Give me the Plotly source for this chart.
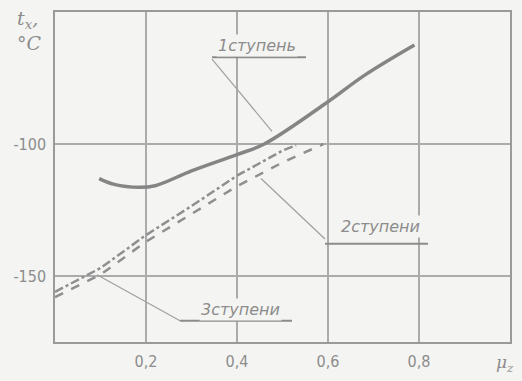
import plotly.graph_objects as go

# Data
x_st1 = [0.097, 0.13, 0.185, 0.22, 0.30, 0.40, 0.46, 0.60, 0.68, 0.79]
y_st1 = [-113.1, -115.3, -116.4, -115.8, -110.2, -104.0, -100.0, -84.0, -74.0, -62.5]

x_st3 = [0.0, 0.1, 0.2, 0.3, 0.4, 0.5, 0.53]
y_st3 = [-156.0, -147.0, -134.5, -123.5, -112.0, -102.5, -100.5]

x_st2 = [0.0, 0.1, 0.2, 0.3, 0.4, 0.5, 0.59]
y_st2 = [-158.0, -149.5, -137.0, -126.5, -116.0, -107.0, -100.0]

x_ticks = [0.2, 0.4, 0.6, 0.8]
x_ticktext = ["0,2", "0,4", "0,6", "0,8"]
y_ticks = [-100, -150]
y_ticktext = ["-100", "-150"]

BG = "#f4f4f2"
INK = "#8c8c8c"
GRID = "#ababab"

# pixel -> data helpers for annotation geometry (plot area 55..510 x, 10..353 y)
def px(p):
    return (p - 55) / 455.0

def py(p):
    return -50 - (p - 10) * 125.0 / 343.0

fig = go.Figure()
fig.add_trace(go.Scatter(x=x_st1, y=y_st1, mode="lines", line=dict(color="#858585", width=3.5, shape="spline"),
                         showlegend=False, hoverinfo="skip"))
fig.add_trace(go.Scatter(x=x_st3, y=y_st3, mode="lines", line=dict(color="#8f8f8f", width=2.5, dash="dashdot"),
                         showlegend=False, hoverinfo="skip"))
fig.add_trace(go.Scatter(x=x_st2, y=y_st2, mode="lines", line=dict(color="#8f8f8f", width=2.5, dash="dash"),
                         showlegend=False, hoverinfo="skip"))

lab_font = dict(family="DejaVu Sans", size=16, color=INK)

labels = [
    ("<i>1ступень</i>", 257, 45, 212, 306, 57, (212, 59), (272, 134)),
    ("<i>2ступени</i>", 380, 233, 325, 428, 251, (325, 246), (261, 183)),
    ("<i>3ступени</i>", 240, 319, 180, 292, 331, (180, 331), (97, 283)),
]
shapes = []
for text, cx, cy, u0, u1, uy, l0, l1 in labels:
    fig.add_annotation(x=px(cx), y=py(cy), xref="x", yref="y", text=text, showarrow=False,
                       font=lab_font, bgcolor=BG, borderpad=1)
    shapes.append(dict(type="line", xref="x", yref="y", x0=px(u0), x1=px(u1), y0=py(uy), y1=py(uy),
                       line=dict(color=INK, width=2), layer="above"))
    shapes.append(dict(type="line", xref="x", yref="y", x0=px(l0[0]), x1=px(l1[0]), y0=py(l0[1]), y1=py(l1[1]),
                       line=dict(color="#a0a0a0", width=1.2)))

fig.update_layout(shapes=shapes)

# axis titles
fig.add_annotation(xref="paper", yref="paper", x=-0.055, y=1.02, xanchor="center", yanchor="top",
                   text="<i>t<sub>x</sub>,</i><br><i>°C</i>", showarrow=False, align="left",
                   font=dict(family="DejaVu Serif", size=19, color=INK))
fig.add_annotation(xref="paper", yref="paper", x=0.99, y=-0.025, xanchor="center", yanchor="top",
                   text="<i>μ<sub>z</sub></i>", showarrow=False,
                   font=dict(family="DejaVu Serif", size=17, color=INK))

tick_font = dict(family="DejaVu Sans Condensed, DejaVu Sans", size=16, color=INK)
fig.update_xaxes(range=[0, 1.0], tickvals=x_ticks, ticktext=x_ticktext, showgrid=True, gridcolor=GRID, gridwidth=1.5,
                 showline=True, linecolor="#9a9a9a", linewidth=1.5, mirror=True, zeroline=False,
                 ticks="", tickfont=tick_font, ticklabelstandoff=4)
fig.update_yaxes(range=[-175, -50], tickvals=y_ticks, ticktext=y_ticktext, showgrid=True, gridcolor=GRID, gridwidth=1.5,
                 showline=True, linecolor="#9a9a9a", linewidth=1.5, mirror=True, zeroline=False,
                 ticks="", tickfont=tick_font, ticklabelstandoff=4)

fig.update_layout(width=522, height=381, margin=dict(l=55, r=12, t=10, b=28),
                  paper_bgcolor=BG, plot_bgcolor=BG, showlegend=False)

fig.write_html("out.html", config={"displayModeBar": False},
               post_script="document.body.style.margin='0';")
